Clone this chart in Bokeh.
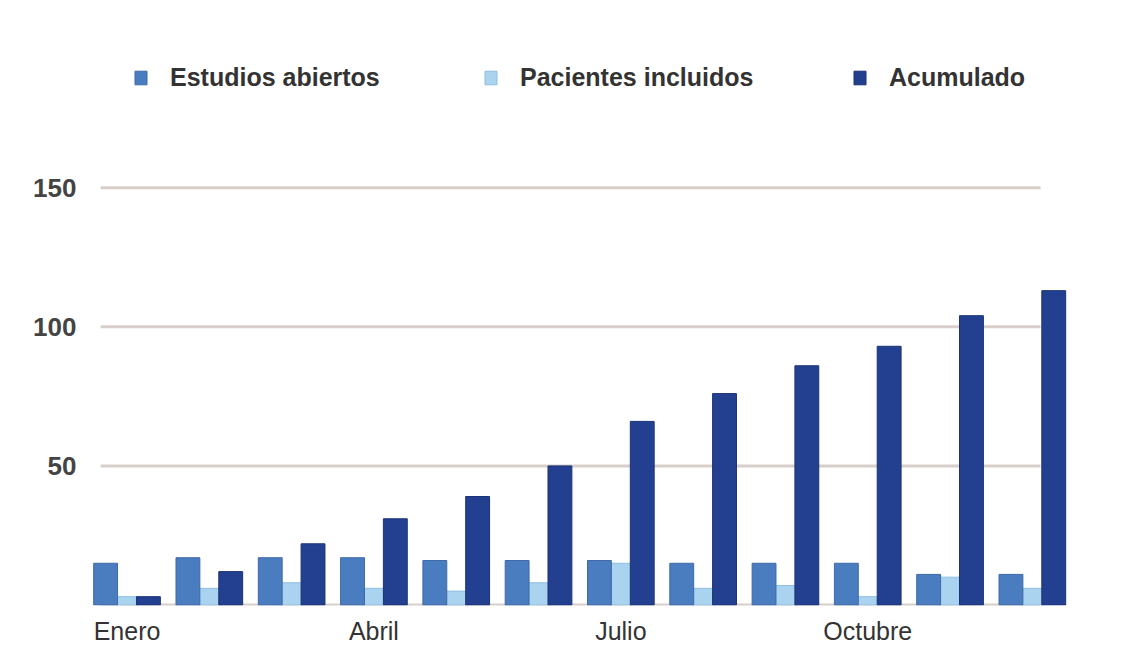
from bokeh.plotting import figure
from bokeh.models import ColumnDataSource, FixedTicker, Legend, LegendItem, Range1d
from bokeh.transform import dodge
from bokeh.embed import file_html
from bokeh.resources import INLINE

# ---- data ----
months = ["Enero", "Febrero", "Marzo", "Abril", "Mayo", "Junio", "Julio",
          "Agosto", "Septiembre", "Octubre", "Noviembre", "Diciembre"]
estudios = [15, 17, 17, 17, 16, 16, 16, 15, 15, 15, 11, 11]
pacientes = [3, 6, 8, 6, 5, 8, 15, 6, 7, 3, 10, 6]
acumulado = [3, 12, 22, 31, 39, 50, 66, 76, 86, 93, 104, 113]
y_ticks = [50, 100, 150]
x_tick_months = ["Enero", "Abril", "Julio", "Octubre"]
series_names = ["Estudios abiertos", "Pacientes incluidos", "Acumulado"]

# ---- styling ----
C_EST = "#4a7cc0"
C_PAC = "#a9d3ef"
C_ACU = "#233f8f"
GRID = "#d8cfcb"
FONT = "Liberation Sans"

xs = list(range(1, len(months) + 1))
src = ColumnDataSource(dict(x=xs, est=estudios, pac=pacientes, acu=acumulado))

px_per_unit_y = 2.81
frame_h = 599
y_start = -0.5 / px_per_unit_y
y_end = y_start + frame_h / px_per_unit_y

p = figure(width=1128, height=647,
           x_range=Range1d(0.532, 12.828), y_range=Range1d(y_start, y_end),
           output_backend="svg", toolbar_location=None,
           min_border_left=88, min_border_right=28, min_border_top=12, min_border_bottom=36)
p.outline_line_color = None
p.xgrid.visible = False
p.ygrid.visible = False
p.background_fill_color = "white"
p.border_fill_color = "white"

# gridlines (from tick values)
gvals = [0] + y_ticks
p.segment(x0=[xs[0] - 0.32] * len(gvals), y0=gvals,
          x1=[xs[-1] + 0.1] * len(gvals), y1=gvals,
          line_color=GRID, line_width=3)

bw = 0.29
r_pac = p.vbar(x=dodge("x", 0.0), top="pac", width=bw, source=src,
               fill_color=C_PAC, line_color="#8fbfe0", line_width=1)
r_est = p.vbar(x=dodge("x", -0.26), top="est", width=bw, source=src,
               fill_color=C_EST, line_color="#3f6aa6", line_width=1)
r_acu = p.vbar(x=dodge("x", 0.26), top="acu", width=bw, source=src,
               fill_color=C_ACU, line_color="#1b3275", line_width=1)

# axes
p.yaxis.ticker = FixedTicker(ticks=y_ticks)
p.yaxis.axis_line_color = None
p.yaxis.major_tick_line_color = None
p.yaxis.minor_tick_line_color = None
p.yaxis.major_label_standoff = 6
p.yaxis.major_label_text_font = FONT
p.yaxis.major_label_text_font_size = "26px"
p.yaxis.major_label_text_font_style = "bold"
p.yaxis.major_label_text_color = "#444444"

xt = [months.index(m) + 1 for m in x_tick_months]
p.xaxis.ticker = FixedTicker(ticks=xt)
p.xaxis.major_label_overrides = {t: months[t - 1] for t in xt}
p.xaxis.axis_line_color = None
p.xaxis.major_tick_line_color = None
p.xaxis.minor_tick_line_color = None
p.xaxis.major_label_standoff = 5
p.xaxis.major_label_text_font = FONT
p.xaxis.major_label_text_font_size = "25px"
p.xaxis.major_label_text_color = "#333333"

# legends (three separate, placed along the top)
for name, rend, vx in zip(series_names, [r_est, r_pac, r_acu], [45, 395, 764]):
    leg = Legend(items=[LegendItem(label=name, renderers=[rend])],
                 location=(vx, 513), orientation="horizontal",
                 padding=0, margin=0, spacing=0,
                 border_line_alpha=0, background_fill_alpha=0,
                 glyph_width=15, glyph_height=17, label_standoff=22,
                 label_text_font=FONT, label_text_font_size="25px",
                 label_text_font_style="bold", label_text_color="#333333")
    p.add_layout(leg)

open("out.html", "w").write(file_html(p, INLINE))
